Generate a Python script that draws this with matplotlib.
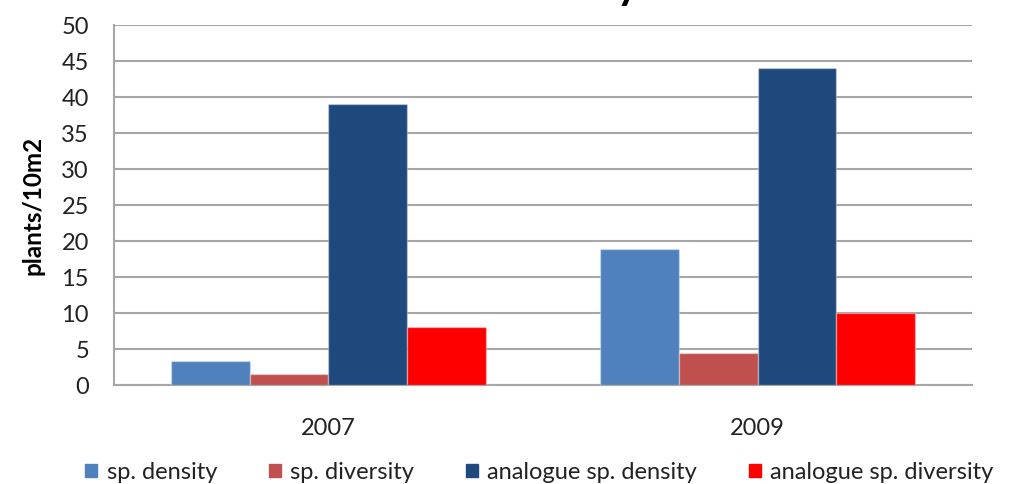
import matplotlib
matplotlib.use("Agg")
import matplotlib.pyplot as plt
import numpy as np
from matplotlib.patches import Patch

categories = ["2007", "2009"]
series_names = ["sp. density", "sp. diversity", "analogue sp. density", "analogue sp. diversity"]
sp_density = [3.4, 18.9]
sp_diversity = [1.5, 4.4]
analogue_sp_density = [39.0, 44.0]
analogue_sp_diversity = [8.0, 10.0]
colors = ["#4F81BD", "#C0504D", "#1F497D", "#FF0000"]
yticks = [0, 5, 10, 15, 20, 25, 30, 35, 40, 45, 50]

series = [sp_density, sp_diversity, analogue_sp_density, analogue_sp_diversity]

plt.rcParams['font.family'] = ['Lato', 'DejaVu Sans']
fig = plt.figure(figsize=(10.14, 4.84), dpi=100)
ax = fig.add_axes([0.1124, 0.2045, 0.8462, 0.7438])

x = np.arange(len(categories))
w = 0.183
for i, (vals, c) in enumerate(zip(series, colors)):
    ax.bar(x + (i - 1.5) * w, vals, width=w, color=c, edgecolor=(1, 1, 1, 0.35),
           linewidth=1, zorder=3, label=series_names[i])

ax.set_xlim(-0.5, 1.5)
ax.set_ylim(0, 50)
ax.set_yticks(yticks)
ax.set_xticks(x)
ax.set_xticklabels(categories, fontsize=17, color="#222222")
ax.tick_params(axis='y', labelsize=17, length=0, pad=18, labelcolor="#222222")
ax.tick_params(axis='x', length=0, pad=24)
ax.yaxis.grid(True, color="#A6A6A6", linewidth=1.5, zorder=0)
ax.set_axisbelow(True)
for s in ["top", "right"]:
    ax.spines[s].set_visible(False)
ax.spines["left"].set_color("#A6A6A6")
ax.spines["bottom"].set_color("#A6A6A6")
ax.spines["left"].set_linewidth(1.5)
ax.spines["bottom"].set_linewidth(1.5)
ax.set_ylabel("plants/10m2", fontsize=17.5, fontweight="bold", labelpad=12)

fig.text(0.528, 1.003, "Mean Biodiversity of CTB", ha="center", va="baseline",
         fontsize=31, fontweight="bold")

handles = [Patch(color=c) for c in colors]
fig.legend(handles, series_names, loc="lower center", bbox_to_anchor=(0.532, -0.042),
           ncol=4, frameon=False, fontsize=17, handlelength=0.5, handleheight=0.5,
           handletextpad=0.4, columnspacing=2.2, labelcolor="#222222")

fig.savefig("out.png", dpi=100)
